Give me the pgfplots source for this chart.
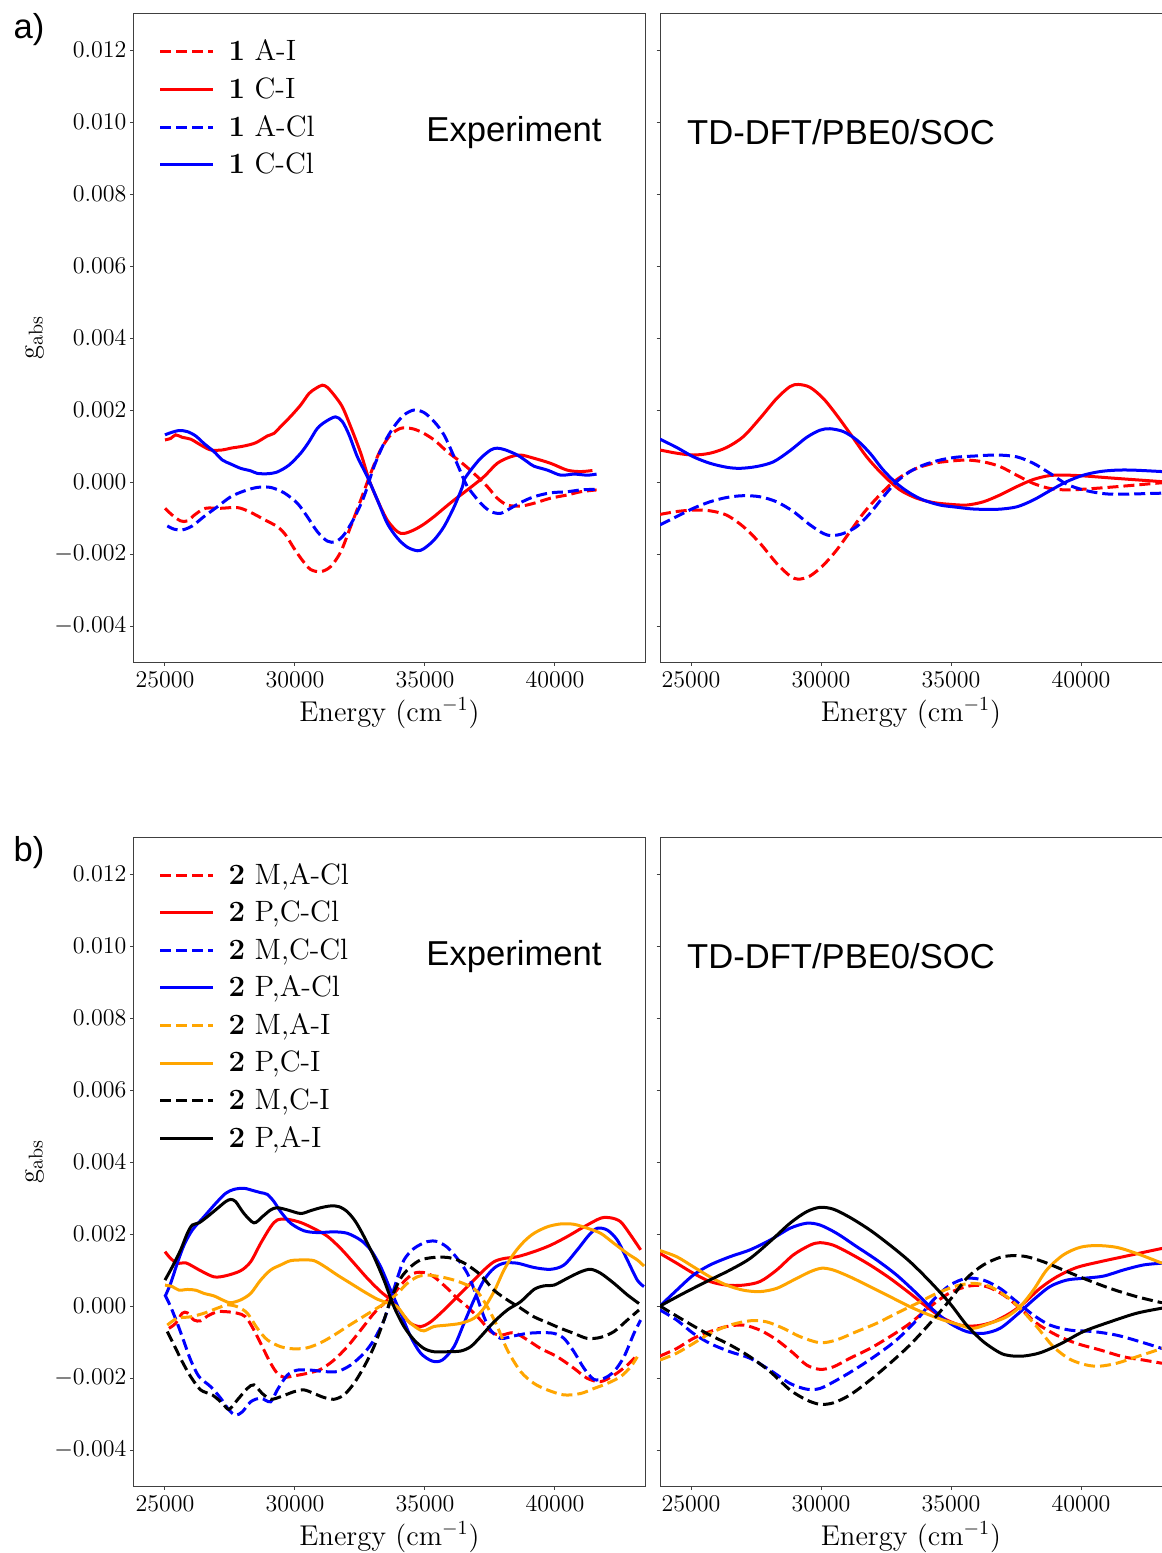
\documentclass[border=0pt]{standalone}
\usepackage{fontspec}
\usepackage{pgfplots}
\pgfplotsset{compat=1.18}
\newfontfamily\arial{Liberation Sans}
\definecolor{myorange}{RGB}{255,165,0}
\pgfplotsset{
  gbase/.style={
    scale only axis, height=324.5pt,
    xmin=23808, ymin=-0.005, ymax=0.013028,
    xtick={25000,30000,35000,40000},
    ytick={-0.004,-0.002,0,0.002,0.004,0.006,0.008,0.010,0.012},
    scaled ticks=false, tick pos=left, tick align=outside, major tick length=1.75pt,
    ticklabel style={font=\fontsize{11.5}{13}\selectfont, inner sep=1.8pt},
    xticklabel style={/pgf/number format/set thousands separator={}, yshift=-1.5pt},
    yticklabel style={/pgf/number format/fixed, /pgf/number format/fixed zerofill, /pgf/number format/precision=3},
    axis line style={black!75, line width=0.5pt},
    every tick/.style={black!75, line width=0.5pt},
    label style={font=\fontsize{14.3}{17}\selectfont},
    xlabel={Energy (cm$^{-1}$)},
    xlabel style={at={(axis description cs:0.5,-0.0786)}, anchor=center},
    every axis plot/.append style={line width=1.5pt, smooth, no markers},
    legend image code/.code={\draw[#1] (0pt,0pt) -- (26.5pt,0pt);},
  },
  leftax/.style={gbase, width=255.5pt, xmax=43462,
    ylabel={$\mathrm{g}_{\mathrm{abs}}$},
    ylabel style={at={(axis description cs:-0.194,0.5)}, anchor=center},
    legend style={draw=none, fill=none, inner sep=0pt, outer sep=0pt,
      at={(axis description cs:0.048,0.969)}, anchor=north west,
      font=\fontsize{14.7}{16}\selectfont, row sep=0pt, column sep=7pt,
      nodes={inner sep=0pt, minimum height=18.8pt}, cells={anchor=west}},
  },
  rightax/.style={gbase, width=251pt, xmax=43115, yticklabels={},
    axis x line*=box, axis y line*=left, xtick pos=left, ytick pos=left},
  dsh/.style={dash pattern=on 5.5pt off 2.5pt},
}
\begin{document}
\begin{tikzpicture}
% ---------------- a) Experiment ----------------
\begin{axis}[leftax, at={(67pt,-6.5pt)}, anchor=north west]
\addplot[red, dsh] coordinates {(25000,-0.73e-3)(25280,-0.92e-3)(25600,-1.08e-3)(25860,-1.08e-3)(26180,-0.89e-3)(26560,-0.73e-3)(27140,-0.73e-3)(27780,-0.71e-3)(28230,-0.82e-3)(28810,-1.04e-3)(29320,-1.24e-3)(29640,-1.47e-3)(29960,-1.84e-3)(30280,-2.17e-3)(30600,-2.43e-3)(30990,-2.49e-3)(31370,-2.35e-3)(31760,-1.94e-3)(32140,-1.24e-3)(32530,-0.50e-3)(32910,0.24e-3)(33290,0.89e-3)(33680,1.31e-3)(34060,1.49e-3)(34450,1.49e-3)(34830,1.40e-3)(35350,1.17e-3)(35860,0.84e-3)(36370,0.56e-3)(36880,0.24e-3)(37400,-0.13e-3)(37780,-0.45e-3)(38170,-0.64e-3)(38680,-0.67e-3)(39190,-0.59e-3)(39830,-0.45e-3)(40470,-0.36e-3)(40990,-0.27e-3)(41600,-0.22e-3)};
\addlegendentry{\textbf{1} A-I}
\addplot[red] coordinates {(25000,1.17e-3)(25220,1.21e-3)(25410,1.31e-3)(25670,1.24e-3)(25990,1.19e-3)(26370,1.03e-3)(26760,0.89e-3)(27200,0.89e-3)(27530,0.94e-3)(28040,1.00e-3)(28490,1.09e-3)(28940,1.28e-3)(29190,1.35e-3)(29450,1.54e-3)(29830,1.82e-3)(30220,2.14e-3)(30540,2.46e-3)(30800,2.60e-3)(31050,2.69e-3)(31240,2.63e-3)(31500,2.42e-3)(31820,2.09e-3)(32140,1.54e-3)(32530,0.80e-3)(32850,0.06e-3)(33170,-0.50e-3)(33550,-1.06e-3)(33940,-1.38e-3)(34190,-1.43e-3)(34580,-1.33e-3)(34960,-1.17e-3)(35350,-0.96e-3)(35730,-0.73e-3)(36120,-0.50e-3)(36630,-0.22e-3)(37270,0.15e-3)(37780,0.52e-3)(38290,0.70e-3)(38680,0.75e-3)(39190,0.66e-3)(39830,0.52e-3)(40470,0.33e-3)(40990,0.29e-3)(41440,0.32e-3)};
\addlegendentry{\textbf{1} C-I}
\addplot[blue, dsh] coordinates {(25090,-1.22e-3)(25350,-1.31e-3)(25670,-1.33e-3)(26050,-1.22e-3)(26500,-0.96e-3)(27010,-0.69e-3)(27530,-0.41e-3)(28040,-0.25e-3)(28550,-0.15e-3)(29060,-0.15e-3)(29580,-0.30e-3)(30090,-0.59e-3)(30470,-0.96e-3)(30860,-1.38e-3)(31240,-1.64e-3)(31560,-1.66e-3)(31880,-1.47e-3)(32270,-1.01e-3)(32650,-0.41e-3)(33040,0.43e-3)(33420,1.07e-3)(33810,1.54e-3)(34190,1.86e-3)(34580,2.00e-3)(34960,1.93e-3)(35350,1.68e-3)(35730,1.31e-3)(36120,0.70e-3)(36500,0.06e-3)(36630,-0.13e-3)(37140,-0.59e-3)(37530,-0.82e-3)(37910,-0.87e-3)(38290,-0.73e-3)(38680,-0.57e-3)(39190,-0.41e-3)(39830,-0.30e-3)(40470,-0.27e-3)(40990,-0.22e-3)(41600,-0.20e-3)};
\addlegendentry{\textbf{1} A-Cl}
\addplot[blue] coordinates {(25000,1.31e-3)(25220,1.37e-3)(25540,1.43e-3)(25860,1.40e-3)(26180,1.28e-3)(26500,1.07e-3)(26890,0.84e-3)(27210,0.61e-3)(27530,0.50e-3)(27910,0.38e-3)(28300,0.31e-3)(28550,0.24e-3)(28940,0.23e-3)(29320,0.28e-3)(29770,0.47e-3)(30220,0.80e-3)(30540,1.12e-3)(30860,1.49e-3)(31180,1.68e-3)(31560,1.81e-3)(31820,1.68e-3)(32080,1.31e-3)(32400,0.70e-3)(32780,0.15e-3)(33170,-0.50e-3)(33550,-1.15e-3)(33940,-1.56e-3)(34320,-1.81e-3)(34710,-1.91e-3)(34960,-1.85e-3)(35350,-1.61e-3)(35730,-1.24e-3)(36120,-0.69e-3)(36440,-0.13e-3)(36500,0.06e-3)(36760,0.33e-3)(37140,0.66e-3)(37530,0.89e-3)(37780,0.94e-3)(38100,0.89e-3)(38550,0.75e-3)(38940,0.56e-3)(39190,0.44e-3)(39710,0.33e-3)(40220,0.19e-3)(40730,0.22e-3)(41240,0.19e-3)(41600,0.22e-3)};
\addlegendentry{\textbf{1} C-Cl}
\node[font=\arial\fontsize{17.3}{20}\selectfont] at (axis cs:38423,0.00972) {Experiment};
\end{axis}
% ---------------- a) TD-DFT ----------------
\begin{axis}[rightax, at={(330pt,-6.5pt)}, anchor=north west]
\addplot[red, dsh] coordinates {(23808,-0.90e-3)(24449,-0.82e-3)(25090,-0.78e-3)(25731,-0.80e-3)(26372,-0.92e-3)(27013,-1.24e-3)(27654,-1.70e-3)(28295,-2.26e-3)(28808,-2.61e-3)(29128,-2.70e-3)(29577,-2.61e-3)(30090,-2.31e-3)(30602,-1.89e-3)(31115,-1.38e-3)(31628,-0.87e-3)(32141,-0.45e-3)(32654,-0.08e-3)(33166,0.19e-3)(33679,0.38e-3)(34320,0.52e-3)(34961,0.58e-3)(35602,0.61e-3)(36243,0.56e-3)(36884,0.43e-3)(37525,0.19e-3)(38166,-0.04e-3)(38807,-0.18e-3)(39448,-0.22e-3)(40089,-0.20e-3)(41371,-0.13e-3)(43115,-0.02e-3)};
\addplot[red] coordinates {(23808,0.89e-3)(24449,0.80e-3)(25090,0.75e-3)(25731,0.80e-3)(26372,0.96e-3)(27013,1.26e-3)(27654,1.77e-3)(28295,2.32e-3)(28808,2.65e-3)(29128,2.71e-3)(29577,2.63e-3)(30090,2.32e-3)(30602,1.86e-3)(31115,1.35e-3)(31756,0.70e-3)(32397,0.19e-3)(33038,-0.22e-3)(33679,-0.45e-3)(34320,-0.57e-3)(34961,-0.62e-3)(35602,-0.64e-3)(36243,-0.55e-3)(36884,-0.36e-3)(37525,-0.13e-3)(38166,0.07e-3)(38807,0.18e-3)(39448,0.19e-3)(40089,0.17e-3)(41371,0.10e-3)(43115,0.01e-3)};
\addplot[blue, dsh] coordinates {(23808,-1.19e-3)(24449,-0.96e-3)(25090,-0.73e-3)(25731,-0.55e-3)(26372,-0.43e-3)(27013,-0.38e-3)(27654,-0.41e-3)(28295,-0.55e-3)(28936,-0.82e-3)(29577,-1.19e-3)(30090,-1.43e-3)(30410,-1.49e-3)(30859,-1.43e-3)(31372,-1.24e-3)(31884,-0.87e-3)(32397,-0.41e-3)(32910,0.01e-3)(33423,0.29e-3)(33935,0.47e-3)(34576,0.61e-3)(35218,0.69e-3)(35859,0.72e-3)(36756,0.75e-3)(37525,0.70e-3)(38166,0.52e-3)(38807,0.24e-3)(39448,-0.06e-3)(40089,-0.22e-3)(40730,-0.31e-3)(41371,-0.34e-3)(43115,-0.31e-3)};
\addplot[blue] coordinates {(23808,1.19e-3)(24449,0.96e-3)(25090,0.70e-3)(25731,0.52e-3)(26372,0.41e-3)(26885,0.38e-3)(27526,0.43e-3)(28167,0.56e-3)(28808,0.87e-3)(29449,1.24e-3)(29962,1.44e-3)(30346,1.48e-3)(30859,1.40e-3)(31372,1.17e-3)(31884,0.80e-3)(32397,0.33e-3)(32910,-0.04e-3)(33423,-0.31e-3)(33935,-0.50e-3)(34576,-0.64e-3)(35218,-0.70e-3)(35859,-0.75e-3)(36756,-0.76e-3)(37525,-0.69e-3)(38166,-0.50e-3)(38807,-0.24e-3)(39448,0.01e-3)(40089,0.19e-3)(40730,0.29e-3)(41371,0.33e-3)(42012,0.33e-3)(43115,0.29e-3)};
\node[font=\arial\fontsize{17.3}{20}\selectfont] at (axis cs:30769,0.00972) {TD-DFT/PBE0/SOC};
\end{axis}
% ---------------- b) Experiment ----------------
\begin{axis}[leftax, at={(67pt,-418.5pt)}, anchor=north west, legend style={at={(axis description cs:0.048,0.9703)}}]
\addplot[red, dsh] coordinates {(25154,-0.62e-3)(25410,-0.48e-3)(25667,-0.20e-3)(25859,-0.19e-3)(26115,-0.39e-3)(26372,-0.41e-3)(26628,-0.28e-3)(27013,-0.16e-3)(27397,-0.16e-3)(27782,-0.20e-3)(28102,-0.30e-3)(28423,-0.67e-3)(28743,-1.13e-3)(29064,-1.59e-3)(29320,-1.87e-3)(29577,-1.98e-3)(29962,-1.94e-3)(30474,-1.87e-3)(30987,-1.76e-3)(31500,-1.50e-3)(32013,-1.13e-3)(32526,-0.67e-3)(33038,-0.20e-3)(33423,0.07e-3)(33807,0.35e-3)(34192,0.68e-3)(34577,0.91e-3)(34961,0.93e-3)(35346,0.81e-3)(35859,0.49e-3)(36243,0.21e-3)(36628,-0.02e-3)(37141,-0.39e-3)(37525,-0.71e-3)(37910,-0.81e-3)(38423,-0.74e-3)(38936,-0.94e-3)(39448,-1.18e-3)(40089,-1.41e-3)(40730,-1.73e-3)(41243,-2.01e-3)(41756,-2.10e-3)(42269,-1.92e-3)(42782,-1.64e-3)(43166,-1.36e-3)};
\addlegendentry{\textbf{2} M,A-Cl}
\addplot[red] coordinates {(25000,1.51e-3)(25218,1.32e-3)(25474,1.19e-3)(25795,1.20e-3)(26051,1.11e-3)(26372,0.98e-3)(26885,0.81e-3)(27333,0.84e-3)(27910,0.98e-3)(28295,1.23e-3)(28679,1.74e-3)(29064,2.20e-3)(29320,2.39e-3)(29705,2.41e-3)(30218,2.32e-3)(30731,2.15e-3)(31243,1.94e-3)(31756,1.60e-3)(32269,1.19e-3)(32782,0.77e-3)(33295,0.40e-3)(33679,0.17e-3)(34064,-0.16e-3)(34448,-0.48e-3)(34833,-0.57e-3)(35218,-0.44e-3)(35730,-0.11e-3)(36243,0.26e-3)(36756,0.63e-3)(37269,1.00e-3)(37654,1.23e-3)(38038,1.32e-3)(38551,1.37e-3)(39192,1.51e-3)(39833,1.69e-3)(40474,1.93e-3)(41115,2.20e-3)(41756,2.44e-3)(42140,2.45e-3)(42525,2.34e-3)(42910,1.97e-3)(43294,1.56e-3)};
\addlegendentry{\textbf{2} P,C-Cl}
\addplot[blue, dsh] coordinates {(25000,0.31e-3)(25218,-0.02e-3)(25474,-0.48e-3)(25731,-0.99e-3)(25987,-1.50e-3)(26308,-1.96e-3)(26756,-2.24e-3)(27141,-2.56e-3)(27461,-2.89e-3)(27718,-3.03e-3)(27974,-2.94e-3)(28295,-2.66e-3)(28679,-2.56e-3)(29064,-2.66e-3)(29320,-2.33e-3)(29705,-1.92e-3)(30090,-1.78e-3)(30602,-1.78e-3)(31115,-1.82e-3)(31628,-1.82e-3)(32141,-1.64e-3)(32654,-1.31e-3)(33038,-0.94e-3)(33423,-0.39e-3)(33679,0.17e-3)(33936,0.77e-3)(34192,1.28e-3)(34577,1.60e-3)(35089,1.79e-3)(35474,1.79e-3)(35859,1.63e-3)(36243,1.32e-3)(36628,0.91e-3)(36948,0.35e-3)(37269,-0.30e-3)(37525,-0.67e-3)(37910,-0.90e-3)(38423,-0.83e-3)(38936,-0.76e-3)(39448,-0.74e-3)(39961,-0.76e-3)(40346,-0.90e-3)(40730,-1.27e-3)(41115,-1.73e-3)(41500,-2.04e-3)(41884,-2.01e-3)(42269,-1.82e-3)(42654,-1.41e-3)(43038,-0.76e-3)(43294,-0.39e-3)};
\addlegendentry{\textbf{2} M,C-Cl}
\addplot[blue] coordinates {(25000,0.26e-3)(25218,0.63e-3)(25474,1.19e-3)(25731,1.69e-3)(26051,2.11e-3)(26500,2.48e-3)(26949,2.85e-3)(27333,3.13e-3)(27654,3.24e-3)(28038,3.27e-3)(28423,3.20e-3)(28679,3.15e-3)(28936,3.10e-3)(29192,2.90e-3)(29449,2.62e-3)(29833,2.30e-3)(30346,2.09e-3)(30859,2.04e-3)(31500,2.06e-3)(32013,2.02e-3)(32526,1.83e-3)(32910,1.56e-3)(33295,1.09e-3)(33679,0.44e-3)(34064,-0.20e-3)(34448,-0.85e-3)(34833,-1.31e-3)(35282,-1.53e-3)(35667,-1.50e-3)(36115,-1.13e-3)(36500,-0.48e-3)(36884,0.17e-3)(37269,0.72e-3)(37654,1.05e-3)(38038,1.19e-3)(38551,1.19e-3)(39192,1.07e-3)(39833,1.02e-3)(40346,1.14e-3)(40858,1.56e-3)(41307,1.97e-3)(41628,2.16e-3)(42012,2.11e-3)(42397,1.83e-3)(42782,1.28e-3)(43166,0.72e-3)(43422,0.54e-3)};
\addlegendentry{\textbf{2} P,A-Cl}
\addplot[myorange, dsh] coordinates {(25090,-0.53e-3)(25474,-0.34e-3)(25987,-0.30e-3)(26500,-0.20e-3)(27013,-0.06e-3)(27397,0.03e-3)(27782,-0.02e-3)(28167,-0.20e-3)(28551,-0.62e-3)(28936,-0.94e-3)(29449,-1.13e-3)(29962,-1.19e-3)(30474,-1.16e-3)(30987,-1.02e-3)(31500,-0.81e-3)(32013,-0.57e-3)(32526,-0.34e-3)(33038,-0.11e-3)(33551,0.12e-3)(33936,0.35e-3)(34320,0.63e-3)(34705,0.81e-3)(35089,0.86e-3)(35602,0.81e-3)(36115,0.72e-3)(36628,0.58e-3)(37013,0.40e-3)(37397,-0.02e-3)(37782,-0.57e-3)(38166,-1.22e-3)(38679,-1.82e-3)(39192,-2.15e-3)(39705,-2.33e-3)(40346,-2.47e-3)(40987,-2.43e-3)(41500,-2.29e-3)(42013,-2.15e-3)(42526,-1.96e-3)(42910,-1.69e-3)(43166,-1.41e-3)};
\addlegendentry{\textbf{2} M,A-I}
\addplot[myorange] coordinates {(25000,0.58e-3)(25282,0.54e-3)(25538,0.44e-3)(25859,0.46e-3)(26180,0.44e-3)(26500,0.35e-3)(26885,0.28e-3)(27269,0.15e-3)(27526,0.09e-3)(27910,0.17e-3)(28295,0.35e-3)(28679,0.72e-3)(29064,1.00e-3)(29449,1.14e-3)(29833,1.26e-3)(30346,1.28e-3)(30731,1.26e-3)(31115,1.11e-3)(31628,0.86e-3)(32141,0.63e-3)(32654,0.40e-3)(33166,0.19e-3)(33551,0.09e-3)(33936,-0.02e-3)(34320,-0.39e-3)(34705,-0.62e-3)(34961,-0.69e-3)(35346,-0.57e-3)(35859,-0.53e-3)(36372,-0.48e-3)(36884,-0.34e-3)(37269,-0.06e-3)(37654,0.40e-3)(38038,1.00e-3)(38423,1.46e-3)(38808,1.79e-3)(39192,2.02e-3)(39705,2.20e-3)(40218,2.28e-3)(40731,2.27e-3)(41243,2.16e-3)(41756,2.02e-3)(42269,1.74e-3)(42782,1.46e-3)(43166,1.28e-3)(43422,1.11e-3)};
\addlegendentry{\textbf{2} P,C-I}
\addplot[black, dsh] coordinates {(25090,-0.71e-3)(25346,-1.08e-3)(25667,-1.55e-3)(25987,-1.96e-3)(26372,-2.33e-3)(26820,-2.47e-3)(27205,-2.70e-3)(27461,-2.87e-3)(27782,-2.61e-3)(28167,-2.29e-3)(28423,-2.19e-3)(28743,-2.43e-3)(29064,-2.59e-3)(29449,-2.52e-3)(29962,-2.38e-3)(30346,-2.33e-3)(30731,-2.43e-3)(31115,-2.54e-3)(31500,-2.59e-3)(31884,-2.47e-3)(32269,-2.15e-3)(32654,-1.69e-3)(33038,-1.13e-3)(33423,-0.39e-3)(33679,0.17e-3)(34064,0.77e-3)(34448,1.09e-3)(34833,1.28e-3)(35346,1.35e-3)(35859,1.35e-3)(36243,1.28e-3)(36628,1.14e-3)(37141,0.86e-3)(37654,0.44e-3)(38166,0.17e-3)(38679,-0.06e-3)(39192,-0.30e-3)(39705,-0.46e-3)(40218,-0.62e-3)(40731,-0.76e-3)(41243,-0.90e-3)(41756,-0.87e-3)(42269,-0.71e-3)(42782,-0.39e-3)(43230,-0.11e-3)};
\addlegendentry{\textbf{2} M,C-I}
\addplot[black] coordinates {(25000,0.72e-3)(25282,1.09e-3)(25603,1.56e-3)(25859,2.02e-3)(26051,2.25e-3)(26308,2.31e-3)(26628,2.48e-3)(27013,2.71e-3)(27333,2.90e-3)(27526,2.96e-3)(27718,2.90e-3)(28038,2.57e-3)(28423,2.31e-3)(28743,2.48e-3)(29064,2.67e-3)(29320,2.73e-3)(29705,2.67e-3)(30218,2.57e-3)(30602,2.65e-3)(30987,2.73e-3)(31372,2.78e-3)(31692,2.76e-3)(32013,2.62e-3)(32333,2.34e-3)(32654,1.93e-3)(33038,1.37e-3)(33423,0.72e-3)(33807,-0.02e-3)(34192,-0.57e-3)(34577,-0.94e-3)(34961,-1.18e-3)(35346,-1.27e-3)(35859,-1.27e-3)(36372,-1.25e-3)(36756,-1.13e-3)(37141,-0.85e-3)(37654,-0.44e-3)(38166,-0.11e-3)(38679,0.12e-3)(39192,0.46e-3)(39577,0.56e-3)(39961,0.58e-3)(40474,0.77e-3)(40987,0.95e-3)(41371,1.02e-3)(41756,0.91e-3)(42269,0.63e-3)(42782,0.31e-3)(43230,0.07e-3)};
\addlegendentry{\textbf{2} P,A-I}
\node[font=\arial\fontsize{17.3}{20}\selectfont] at (axis cs:38423,0.00972) {Experiment};
\end{axis}
% ---------------- b) TD-DFT ----------------
\begin{axis}[rightax, at={(330pt,-418.5pt)}, anchor=north west]
\addplot[red, dsh] coordinates {(23808,-1.39e-3)(24449,-1.18e-3)(25090,-0.90e-3)(25731,-0.71e-3)(26372,-0.57e-3)(27013,-0.53e-3)(27654,-0.67e-3)(28295,-0.94e-3)(28936,-1.31e-3)(29449,-1.64e-3)(29962,-1.76e-3)(30474,-1.69e-3)(31115,-1.45e-3)(31884,-1.18e-3)(32654,-0.85e-3)(33423,-0.48e-3)(34192,-0.02e-3)(34961,0.37e-3)(35731,0.56e-3)(36372,0.54e-3)(37012,0.31e-3)(37654,-0.06e-3)(38295,-0.48e-3)(39064,-0.81e-3)(39833,-1.04e-3)(40730,-1.22e-3)(41628,-1.41e-3)(42397,-1.50e-3)(43115,-1.59e-3)};
\addplot[red] coordinates {(23808,1.46e-3)(24449,1.19e-3)(25090,0.91e-3)(25731,0.68e-3)(26372,0.58e-3)(27013,0.58e-3)(27654,0.68e-3)(28295,1.00e-3)(28936,1.42e-3)(29577,1.69e-3)(29962,1.76e-3)(30474,1.69e-3)(31115,1.46e-3)(31884,1.14e-3)(32654,0.77e-3)(33423,0.35e-3)(34064,-0.02e-3)(34705,-0.34e-3)(35346,-0.53e-3)(35987,-0.55e-3)(36628,-0.44e-3)(37269,-0.20e-3)(37782,0.07e-3)(38423,0.49e-3)(39064,0.81e-3)(39833,1.07e-3)(40730,1.23e-3)(41628,1.37e-3)(42397,1.49e-3)(43115,1.60e-3)};
\addplot[blue, dsh] coordinates {(23808,-0.11e-3)(24449,-0.39e-3)(25090,-0.76e-3)(25731,-1.04e-3)(26500,-1.27e-3)(27269,-1.45e-3)(28038,-1.78e-3)(28808,-2.15e-3)(29449,-2.31e-3)(29962,-2.29e-3)(30602,-2.06e-3)(31372,-1.73e-3)(32141,-1.36e-3)(32910,-0.94e-3)(33679,-0.39e-3)(34320,0.17e-3)(34961,0.58e-3)(35602,0.77e-3)(36243,0.72e-3)(36884,0.49e-3)(37525,0.12e-3)(38166,-0.25e-3)(38807,-0.53e-3)(39577,-0.67e-3)(40474,-0.71e-3)(41371,-0.81e-3)(42269,-0.99e-3)(43115,-1.18e-3)};
\addplot[blue] coordinates {(23808,0)(24449,0.44e-3)(25090,0.86e-3)(25731,1.14e-3)(26500,1.37e-3)(27269,1.56e-3)(28038,1.83e-3)(28808,2.16e-3)(29449,2.30e-3)(29962,2.25e-3)(30602,2.02e-3)(31372,1.65e-3)(32141,1.28e-3)(32910,0.86e-3)(33679,0.35e-3)(34320,-0.11e-3)(34961,-0.48e-3)(35602,-0.71e-3)(36243,-0.76e-3)(36884,-0.62e-3)(37525,-0.25e-3)(38166,0.17e-3)(38807,0.54e-3)(39448,0.72e-3)(40089,0.77e-3)(40858,0.83e-3)(41628,1.00e-3)(42397,1.14e-3)(43115,1.19e-3)};
\addplot[myorange, dsh] coordinates {(23808,-1.50e-3)(24449,-1.31e-3)(25090,-1.04e-3)(25731,-0.76e-3)(26500,-0.53e-3)(27269,-0.41e-3)(27910,-0.44e-3)(28551,-0.62e-3)(29192,-0.85e-3)(29962,-1.02e-3)(30602,-0.94e-3)(31372,-0.71e-3)(32141,-0.48e-3)(32910,-0.20e-3)(33679,0.07e-3)(34449,0.35e-3)(35218,0.56e-3)(35859,0.63e-3)(36500,0.54e-3)(37141,0.26e-3)(37654,-0.06e-3)(38295,-0.57e-3)(38936,-1.13e-3)(39577,-1.48e-3)(40218,-1.64e-3)(40730,-1.67e-3)(41371,-1.59e-3)(42141,-1.41e-3)(43115,-1.18e-3)};
\addplot[myorange] coordinates {(23808,1.54e-3)(24449,1.37e-3)(25090,1.09e-3)(25731,0.81e-3)(26372,0.58e-3)(27013,0.44e-3)(27654,0.40e-3)(28295,0.49e-3)(28936,0.72e-3)(29577,0.95e-3)(30026,1.05e-3)(30474,1.00e-3)(31115,0.81e-3)(31884,0.54e-3)(32654,0.26e-3)(33423,-0.02e-3)(34064,-0.22e-3)(34705,-0.39e-3)(35346,-0.53e-3)(35859,-0.62e-3)(36500,-0.48e-3)(37141,-0.30e-3)(37654,-0.02e-3)(38166,0.44e-3)(38679,1.00e-3)(39320,1.42e-3)(39961,1.63e-3)(40602,1.68e-3)(41371,1.63e-3)(42141,1.46e-3)(43115,1.19e-3)};
\addplot[black, dsh] coordinates {(23808,0)(24705,-0.39e-3)(25603,-0.76e-3)(26500,-1.08e-3)(27269,-1.41e-3)(28038,-1.82e-3)(28808,-2.33e-3)(29449,-2.61e-3)(29962,-2.73e-3)(30474,-2.69e-3)(31115,-2.47e-3)(31884,-2.06e-3)(32654,-1.59e-3)(33423,-1.08e-3)(34192,-0.48e-3)(34961,0.17e-3)(35602,0.77e-3)(36243,1.14e-3)(36884,1.35e-3)(37397,1.40e-3)(37910,1.37e-3)(38551,1.23e-3)(39320,1.00e-3)(40089,0.77e-3)(41115,0.49e-3)(42141,0.26e-3)(43115,0.09e-3)};
\addplot[black] coordinates {(23808,0)(24705,0.35e-3)(25603,0.68e-3)(26500,1.00e-3)(27269,1.32e-3)(28038,1.79e-3)(28808,2.30e-3)(29449,2.62e-3)(29962,2.74e-3)(30474,2.69e-3)(31115,2.46e-3)(31884,2.11e-3)(32654,1.69e-3)(33423,1.23e-3)(34192,0.68e-3)(34961,0.07e-3)(35602,-0.53e-3)(36243,-0.99e-3)(36884,-1.30e-3)(37269,-1.38e-3)(37782,-1.39e-3)(38423,-1.30e-3)(39192,-1.06e-3)(40089,-0.71e-3)(41115,-0.44e-3)(42141,-0.20e-3)(43115,-0.06e-3)};
\node[font=\arial\fontsize{17.3}{20}\selectfont] at (axis cs:30769,0.00972) {TD-DFT/PBE0/SOC};
\end{axis}
\node[font=\arial\fontsize{17.3}{20}\selectfont] at (14.5pt,-15pt) {a)};
\node[font=\arial\fontsize{17.3}{20}\selectfont] at (14.5pt,-426.5pt) {b)};
\pgfresetboundingbox
\useasboundingbox (0pt,0pt) rectangle (581pt,-776.5pt);
\end{tikzpicture}
\end{document}
